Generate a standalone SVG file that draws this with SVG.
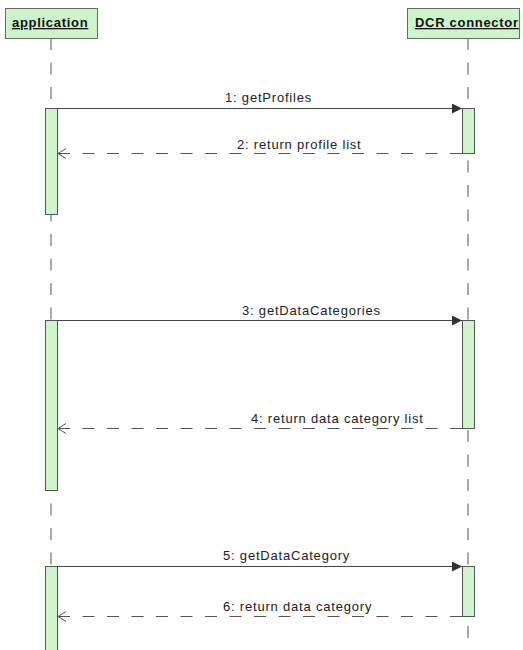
<svg xmlns="http://www.w3.org/2000/svg" width="523" height="650" viewBox="0 0 523 650">
<style>
.head{fill:#ccf5cc;stroke:#6a6a6a;stroke-width:1}
.htxt{font-family:"Liberation Sans",Arial,sans-serif;font-size:13px;font-weight:bold;fill:#111;letter-spacing:0.7px;text-decoration:underline}
.life{stroke:#555;stroke-width:1;stroke-dasharray:12 12.5;fill:none}
.act{fill:#ccf5cc;stroke:#555;stroke-width:1}
.msg{stroke:#444;stroke-width:1;fill:none}
.ret{stroke:#555;stroke-width:1;stroke-dasharray:12 12.5;fill:none}
.lbl{font-family:"Liberation Sans",Arial,sans-serif;font-size:13px;fill:#222;letter-spacing:0.8px}
</style>
<defs>
<marker id="solid" markerWidth="10" markerHeight="10" refX="10" refY="5" orient="auto" markerUnits="userSpaceOnUse">
<path d="M0,0 L10,5 L0,10 Z" fill="#333"/>
</marker>
<marker id="open" markerWidth="10" markerHeight="12" refX="9" refY="6" orient="auto" markerUnits="userSpaceOnUse">
<path d="M1,1 L9,6 L1,11" fill="none" stroke="#555" stroke-width="1"/>
</marker>
</defs>
<rect width="523" height="650" fill="#fff"/>
<g id="application">
<line class="life" x1="51" y1="38" x2="51" y2="650"/>
<rect class="head" x="5.5" y="8.5" width="92" height="30"/>
<text class="htxt" x="12" y="27">application</text>
<rect class="act" x="45.5" y="108.5" width="12" height="106"/>
<rect class="act" x="45.5" y="320.5" width="12" height="170"/>
<rect class="act" x="45.5" y="566.5" width="12" height="100"/>
</g>
<g id="dcr">
<line class="life" x1="468" y1="38" x2="468" y2="650"/>
<rect class="head" x="407.5" y="8.5" width="112" height="30"/>
<text class="htxt" x="415" y="27">DCR connector</text>
<rect class="act" x="462.5" y="108.5" width="12" height="45"/>
<rect class="act" x="462.5" y="320.5" width="12" height="108"/>
<rect class="act" x="462.5" y="566.5" width="12" height="50"/>
</g>
<g id="connectors">
<line class="msg" x1="57.5" y1="108.5" x2="462" y2="108.5" marker-end="url(#solid)"/>
<text class="lbl" x="225" y="102">1: getProfiles</text>
<line class="ret" x1="462" y1="153.5" x2="58" y2="153.5" marker-end="url(#open)"/>
<text class="lbl" x="237" y="149">2: return profile list</text>
<line class="msg" x1="57.5" y1="320.5" x2="462" y2="320.5" marker-end="url(#solid)"/>
<text class="lbl" x="242" y="315">3: getDataCategories</text>
<line class="ret" x1="462" y1="428.5" x2="58" y2="428.5" marker-end="url(#open)"/>
<text class="lbl" x="251" y="423">4: return data category list</text>
<line class="msg" x1="57.5" y1="566.5" x2="462" y2="566.5" marker-end="url(#solid)"/>
<text class="lbl" x="223" y="560">5: getDataCategory</text>
<line class="ret" x1="462" y1="616.5" x2="58" y2="616.5" marker-end="url(#open)"/>
<text class="lbl" x="223" y="611">6: return data category</text>
</g>
</svg>
